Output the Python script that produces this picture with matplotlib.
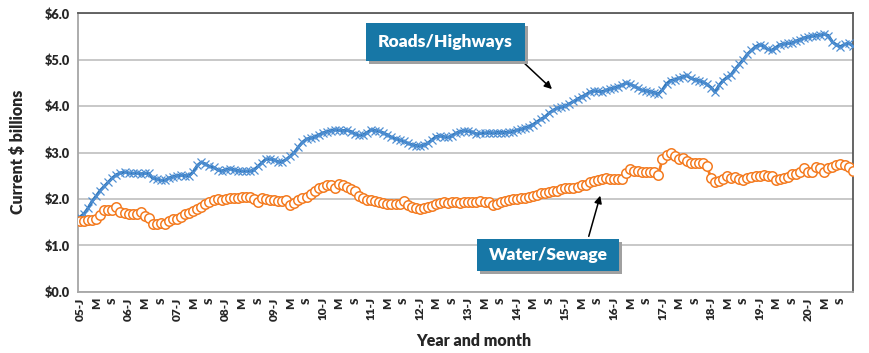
import matplotlib
matplotlib.use('Agg')
from matplotlib import pyplot as plt
from matplotlib.patches import Rectangle

# Monthly values, Jan 2005 - Dec 2020, current $ billions (one row per year)
roads = [
    1.61, 1.68, 1.80, 1.95, 2.06, 2.18, 2.27, 2.36, 2.45, 2.52, 2.56, 2.58,  # 2005
    2.56, 2.55, 2.56, 2.54, 2.55, 2.55, 2.44, 2.43, 2.40, 2.40, 2.45, 2.48,  # 2006
    2.50, 2.51, 2.50, 2.50, 2.58, 2.72, 2.79, 2.75, 2.70, 2.68, 2.63, 2.60,  # 2007
    2.63, 2.65, 2.63, 2.61, 2.60, 2.60, 2.60, 2.62, 2.70, 2.78, 2.86, 2.86,  # 2008
    2.84, 2.80, 2.80, 2.85, 2.92, 3.00, 3.12, 3.22, 3.29, 3.31, 3.33, 3.38,  # 2009
    3.42, 3.45, 3.47, 3.49, 3.48, 3.47, 3.48, 3.45, 3.40, 3.37, 3.38, 3.43,  # 2010
    3.49, 3.47, 3.46, 3.42, 3.38, 3.33, 3.30, 3.27, 3.24, 3.20, 3.17, 3.15,  # 2011
    3.14, 3.16, 3.20, 3.27, 3.34, 3.36, 3.34, 3.33, 3.36, 3.42, 3.45, 3.47,  # 2012
    3.46, 3.44, 3.40, 3.41, 3.42, 3.43, 3.42, 3.43, 3.43, 3.43, 3.44, 3.45,  # 2013
    3.48, 3.50, 3.53, 3.56, 3.60, 3.66, 3.72, 3.77, 3.85, 3.91, 3.96, 3.98,  # 2014
    4.00, 4.05, 4.10, 4.15, 4.20, 4.24, 4.30, 4.33, 4.32, 4.31, 4.34, 4.37,  # 2015
    4.39, 4.42, 4.45, 4.50, 4.47, 4.43, 4.38, 4.34, 4.33, 4.31, 4.29, 4.26,  # 2016
    4.35, 4.48, 4.55, 4.57, 4.60, 4.63, 4.66, 4.60, 4.57, 4.55, 4.52, 4.47,  # 2017
    4.40, 4.30, 4.45, 4.55, 4.62, 4.68, 4.80, 4.90, 5.00, 5.12, 5.20, 5.28,  # 2018
    5.32, 5.30, 5.22, 5.20, 5.26, 5.32, 5.34, 5.35, 5.36, 5.40, 5.43, 5.47,  # 2019
    5.49, 5.51, 5.52, 5.53, 5.55, 5.52, 5.38, 5.32, 5.28, 5.33, 5.36, 5.30,  # 2020
]

water = [
    1.52, 1.53, 1.54, 1.55, 1.56, 1.66, 1.76, 1.77, 1.76, 1.82, 1.71, 1.69,  # 2005
    1.68, 1.68, 1.68, 1.72, 1.64, 1.58, 1.45, 1.45, 1.48, 1.45, 1.52, 1.56,  # 2006
    1.57, 1.62, 1.67, 1.70, 1.74, 1.79, 1.82, 1.88, 1.93, 1.97, 2.00, 1.97,  # 2007
    2.00, 2.01, 2.02, 2.02, 2.04, 2.05, 2.04, 1.99, 1.93, 2.03, 2.00, 1.98,  # 2008
    1.97, 1.95, 1.96, 1.97, 1.87, 1.92, 1.97, 2.01, 2.05, 2.10, 2.18, 2.23,  # 2009
    2.26, 2.29, 2.31, 2.24, 2.33, 2.30, 2.25, 2.21, 2.16, 2.07, 2.01, 1.97,  # 2010
    1.97, 1.95, 1.93, 1.92, 1.90, 1.88, 1.88, 1.89, 1.95, 1.87, 1.82, 1.80,  # 2011
    1.78, 1.81, 1.83, 1.85, 1.89, 1.92, 1.93, 1.92, 1.93, 1.94, 1.92, 1.93,  # 2012
    1.94, 1.93, 1.94, 1.95, 1.93, 1.94, 1.87, 1.90, 1.93, 1.95, 1.97, 1.99,  # 2013
    1.99, 2.01, 2.03, 2.05, 2.07, 2.09, 2.12, 2.13, 2.14, 2.17, 2.18, 2.22,  # 2014
    2.23, 2.23, 2.24, 2.26, 2.29, 2.31, 2.36, 2.39, 2.41, 2.43, 2.44, 2.42,  # 2015
    2.42, 2.42, 2.43, 2.55, 2.64, 2.61, 2.60, 2.59, 2.59, 2.57, 2.57, 2.52,  # 2016
    2.87, 2.94, 2.99, 2.93, 2.87, 2.88, 2.81, 2.78, 2.77, 2.77, 2.78, 2.70,  # 2017
    2.45, 2.36, 2.39, 2.42, 2.49, 2.46, 2.48, 2.42, 2.41, 2.44, 2.48, 2.49,  # 2018
    2.49, 2.51, 2.49, 2.49, 2.41, 2.42, 2.44, 2.48, 2.54, 2.54, 2.59, 2.66,  # 2019
    2.57, 2.59, 2.69, 2.66, 2.57, 2.66, 2.69, 2.73, 2.75, 2.73, 2.69, 2.60,  # 2020
]

years = list(range(2005, 2021))
month_marks = {0: 'J', 4: 'M', 8: 'S'}

FONT = 'Lato'
ROAD_BLUE = '#2E74B5'
WATER_ORANGE = '#F47B20'
BOX_BLUE = '#1777A6'

# Tick labels: "05-J", "M", "S", "06-J", ...
tick_pos = []
tick_lab = []
for k, yr in enumerate(years):
    for m, lab in month_marks.items():
        tick_pos.append(k * 12 + m)
        tick_lab.append(f'{yr % 100:02d}-J' if m == 0 else lab)

W, H = 870, 353
fig = plt.figure(figsize=(W / 100, H / 100), dpi=100)
ax = fig.add_axes([78 / W, 1 - 291.7 / H, (853 - 78) / W, (291.7 - 13.3) / H])

x = list(range(len(roads)))

ax.plot(x, roads, color=ROAD_BLUE, lw=2.2, marker='x', ms=5.2, mew=0.9,
        mec='#4F8FD3', zorder=3)
ax.plot(x, water, color=WATER_ORANGE, lw=2.0, marker='o', ms=6.8, mew=1.1,
        mfc='white', mec=WATER_ORANGE, zorder=3)

ax.set_xlim(-0.5, len(roads) - 0.9)
ax.set_ylim(0, 6)
ax.set_yticks([0, 1, 2, 3, 4, 5, 6])
ax.set_yticklabels([f'${v:.1f}' for v in range(7)], fontfamily=FONT,
                   fontweight='heavy', fontsize=9.2, color='#262626')
ax.set_xticks(tick_pos)
ax.set_xticklabels(tick_lab, rotation=90, fontfamily=FONT, fontweight='heavy',
                   fontsize=8.5, color='#262626')
ax.tick_params(axis='both', length=0, pad=6)
ax.tick_params(axis='x', pad=4)

ax.grid(axis='y', color='#BFBFBF', lw=1.2)
ax.set_axisbelow(True)
for side in ['left', 'bottom']:
    ax.spines[side].set_color('#A6A6A6')
    ax.spines[side].set_linewidth(1.3)
for side in ['top', 'right']:
    ax.spines[side].set_color('#595959')
    ax.spines[side].set_linewidth(1.3)

fig.text(18 / W, 1 - 152 / H, 'Current $ billions', rotation=90, ha='center',
         va='center', fontfamily=FONT, fontweight='heavy', fontsize=11.5,
         color='#262626')
fig.text(474 / W, 1 - 341 / H, 'Year and month', ha='center', va='center',
         fontfamily=FONT, fontweight='heavy', fontsize=11.5, color='#262626')


def callout(x0, y0, x1, y1, text, tip, tail):
    # box with a drop shadow, pixel coordinates from the top left corner
    for dx, dy, col in [(3, 3, '#A0A0A0'), (0, 0, BOX_BLUE)]:
        fig.patches.append(Rectangle(((x0 + dx) / W, 1 - (y1 + dy) / H),
                                     (x1 - x0) / W, (y1 - y0) / H,
                                     transform=fig.transFigure,
                                     facecolor=col, edgecolor='none',
                                     zorder=5 if dx == 0 else 4))
    fig.text((x0 + x1) / 2 / W, 1 - (y0 + y1) / 2 / H, text, ha='center',
             va='center', color='white', fontfamily=FONT, fontweight='heavy',
             fontsize=12.5, zorder=6)
    ax.annotate('', xy=(tip[0] / W, 1 - tip[1] / H),
                xytext=(tail[0] / W, 1 - tail[1] / H),
                xycoords='figure fraction', textcoords='figure fraction',
                arrowprops=dict(arrowstyle='-|>', color='black', lw=1.1,
                                mutation_scale=11), zorder=6)


callout(366, 23, 525, 61, 'Roads/Highways', (554, 91), (522, 61))
callout(477, 239, 619, 271, 'Water/Sewage', (601, 193), (588, 239))

fig.savefig('out.png', dpi=100)
